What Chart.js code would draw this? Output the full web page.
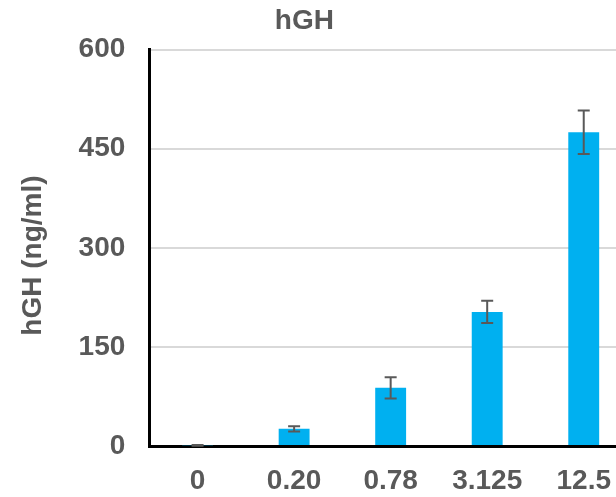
<!DOCTYPE html>
<html>
<head>
<meta charset="utf-8">
<script src="https://cdn.jsdelivr.net/npm/chart.js@4/dist/chart.umd.min.js"></script>
<style>
  body { margin: 0; overflow: hidden; background: #fff; }
</style>
</head>
<body>
<canvas id="myChart" width="632" height="497"></canvas>
<script>
// data
const doses = ['0', '0.20', '0.78', '3.125', '12.5'];
const hgh = [1, 26, 88, 203, 475];
const hghErr = [0.6, 4, 16, 17, 33];
const yTicks = [0, 150, 300, 450, 600];

const grey = '#595959';
const font = { family: 'Liberation Sans', size: 28, weight: 'bold' };

// error bars drawn through the y scale
const errorBars = {
  id: 'errorBars',
  afterDatasetsDraw(chart) {
    const ctx = chart.ctx;
    const y = chart.scales.y;
    const meta = chart.getDatasetMeta(0);
    ctx.save();
    ctx.strokeStyle = grey;
    ctx.lineWidth = 2;
    meta.data.forEach((bar, i) => {
      const top = y.getPixelForValue(hgh[i] + hghErr[i]);
      const bot = y.getPixelForValue(hgh[i] - hghErr[i]);
      ctx.beginPath();
      ctx.moveTo(bar.x, top);
      ctx.lineTo(bar.x, bot);
      ctx.moveTo(bar.x - 6, top);
      ctx.lineTo(bar.x + 6, top);
      ctx.moveTo(bar.x - 6, bot);
      ctx.lineTo(bar.x + 6, bot);
      ctx.stroke();
    });
    ctx.restore();
  }
};

const ctx = document.getElementById('myChart').getContext('2d');
const myChart = new Chart(ctx, {
  type: 'bar',
  data: {
    labels: doses,
    datasets: [
      {
        label: 'hGH',
        data: hgh,
        backgroundColor: '#00B0F0',
        borderWidth: 0,
        barPercentage: 0.32,
        categoryPercentage: 1,
      }
    ]
  },
  options: {
    responsive: false,
    animation: false,
    layout: { padding: 0 },
    plugins: {
      legend: { display: false },
      tooltip: { enabled: false },
      title: {
        display: true,
        // canvas is wider than the window, trailing spaces pull the title back to centre
        text: 'hGH   ',
        color: grey,
        font: font,
        padding: { top: 4, bottom: 12 }
      }
    },
    scales: {
      x: {
        grid: { display: false, drawTicks: false },
        border: { display: true, color: '#000', width: 3 },
        ticks: {
          color: grey,
          padding: 18,
          maxRotation: 0,
          minRotation: 0,
          font: font
        },
        // chart.js counts the tick padding twice, keep the axis band tight
        afterFit: axis => { axis.height = 51; }
      },
      y: {
        min: yTicks[0],
        max: yTicks[yTicks.length - 1],
        afterBuildTicks: axis => { axis.ticks = yTicks.map(v => ({ value: v })); },
        grid: { color: '#d9d9d9', lineWidth: 2, drawTicks: false },
        border: { display: true, color: '#000', width: 3 },
        ticks: {
          color: grey,
          padding: 24,
          font: font
        },
        title: {
          display: true,
          text: 'hGH (ng/ml)  ',
          color: grey,
          font: font,
          padding: { top: 16, bottom: 5 }
        }
      }
    }
  },
  plugins: [errorBars]
});
</script>
</body>
</html>
